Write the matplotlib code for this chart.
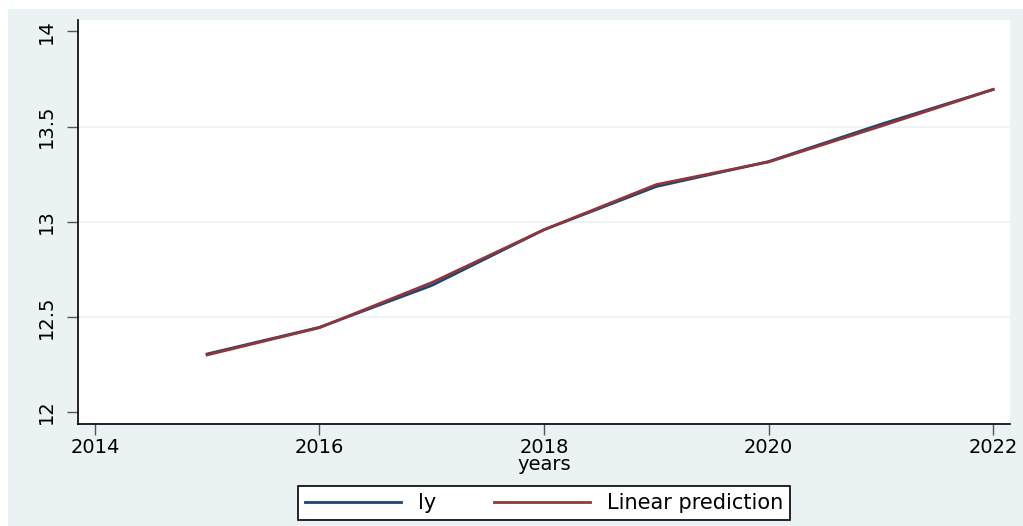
import numpy as np
import matplotlib.pyplot as plt
from matplotlib.patches import Rectangle

# yearly log values and fitted linear prediction
years = [2015, 2016, 2017, 2018, 2019, 2020, 2021, 2022]
ly = [12.305, 12.445, 12.665, 12.958, 13.185, 13.316, 13.512, 13.695]
lin_pred = [12.300, 12.443, 12.680, 12.958, 13.195, 13.314, 13.502, 13.695]

x_ticks = [2014, 2016, 2018, 2020, 2022]
y_ticks = [12, 12.5, 13, 13.5, 14]
y_tick_labels = ['12', '12.5', '13', '13.5', '14']

bg = '#eaf2f3'
navy = '#1a476f'
maroon = '#90353b'

plt.rcParams['font.family'] = 'DejaVu Sans'

fig = plt.figure(figsize=(10.23, 5.26), dpi=100, facecolor='white')
# light graph region behind the plot
fig.patches.append(Rectangle((8 / 1023, 0), 1 - 8 / 1023, 1 - 9 / 526,
                             transform=fig.transFigure, facecolor=bg,
                             edgecolor='none', zorder=-10))

ax = fig.add_axes([78 / 1023, 102 / 526, 932 / 1023, 404 / 526])
ax.set_facecolor('white')

ax.plot(years, ly, color=navy, lw=2, label='ly', zorder=3)
ax.plot(years, lin_pred, color=maroon, lw=2, label='Linear prediction', zorder=4)

ax.set_xlim(2013.85, 2022.15)
ax.set_ylim(11.937, 14.06)
ax.set_xticks(x_ticks)
ax.set_yticks(y_ticks)
ax.set_yticklabels(y_tick_labels, rotation=90, va='center')
ax.tick_params(axis='both', labelsize=14, direction='out', length=8,
               width=1, color='#555555')
ax.tick_params(axis='x', pad=2)
ax.tick_params(axis='y', pad=8)

for v in [12.5, 13, 13.5]:
    ax.axhline(v, color=bg, lw=1.2, zorder=1)

for s in ['top', 'right']:
    ax.spines[s].set_visible(False)
for s in ['left', 'bottom']:
    ax.spines[s].set_color('black')
    ax.spines[s].set_linewidth(1.2)

ax.set_xlabel('years', fontsize=14, labelpad=-1)

leg = ax.legend(loc='upper center', bbox_to_anchor=(0.5, -0.153), ncol=2,
                fontsize=15, frameon=True, fancybox=False, handlelength=4.6,
                handletextpad=0.8, columnspacing=2.8, borderpad=0.35,
                borderaxespad=0)
leg.get_frame().set_edgecolor('black')
leg.get_frame().set_linewidth(1.2)
leg.get_frame().set_facecolor('white')
leg.get_frame().set_alpha(1)

fig.savefig('out.png', dpi=100, facecolor=fig.get_facecolor())
